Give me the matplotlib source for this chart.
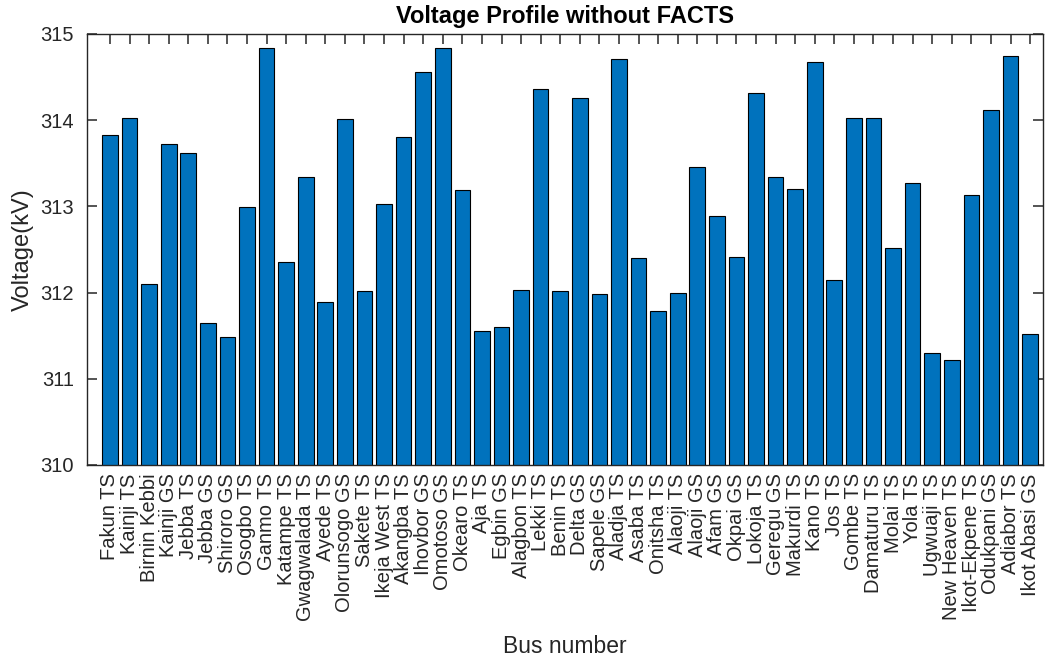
import matplotlib
matplotlib.use("Agg")
import matplotlib.pyplot as plt
import numpy as np

buses = [
    "Fakun TS", "Kainji TS", "Birnin Kebbi", "Kainji GS", "Jebba TS", "Jebba GS",
    "Shiroro GS", "Osogbo TS", "Ganmo TS", "Katampe TS", "Gwagwalada TS", "Ayede TS",
    "Olorunsogo GS", "Sakete TS", "Ikeja West TS", "Akangba TS", "Ihovbor GS",
    "Omotoso GS", "Okearo TS", "Aja TS", "Egbin GS", "Alagbon TS", "Lekki TS",
    "Benin TS", "Delta GS", "Sapele GS", "Aladja TS", "Asaba TS", "Onitsha TS",
    "Alaoji TS", "Alaoji GS", "Afam GS", "Okpai GS", "Lokoja TS", "Geregu GS",
    "Makurdi TS", "Kano TS", "Jos TS", "Gombe TS", "Damaturu TS", "Molai TS",
    "Yola TS", "Ugwuaji TS", "New Heaven TS", "Ikot-Ekpene TS", "Odukpani GS",
    "Adiabor TS", "Ikot Abasi GS",
]

voltage_kv = [
    313.83, 314.02, 312.10, 313.72, 313.62, 311.65,
    311.48, 312.99, 314.84, 312.36, 313.34, 311.89,
    314.01, 312.02, 313.03, 313.80, 314.56,
    314.84, 313.19, 311.55, 311.60, 312.03, 314.36,
    312.02, 314.26, 311.98, 314.71, 312.40, 311.79,
    312.00, 313.46, 312.89, 312.41, 314.32, 313.34,
    313.20, 314.67, 312.15, 314.03, 314.02, 312.52,
    313.27, 311.30, 311.22, 313.13, 314.12,
    314.74, 311.52,
]

y_ticks = [310, 311, 312, 313, 314, 315]

plt.rcParams["font.family"] = ["Liberation Sans", "DejaVu Sans"]
ink = "#262626"

fig = plt.figure(figsize=(10.49, 6.65), dpi=100)
ax = fig.add_axes([0.0826, 0.3008, 0.9117, 0.6481])

x = np.arange(1, len(buses) + 1)
ax.bar(x, voltage_kv, width=0.8, bottom=0, color="#0072BD",
       edgecolor="black", linewidth=0.8, zorder=2)

ax.set_ylim(310, 315)
ax.set_xlim(-0.19, 48.66)
ax.set_yticks(y_ticks)
ax.set_xticks(x)
ax.set_xticklabels(buses, rotation=90, fontsize=14.5, color=ink)
ax.tick_params(axis="y", labelsize=14.5, labelcolor=ink, pad=9)
ax.tick_params(axis="x", pad=6)
ax.tick_params(which="both", direction="in", length=7.5, width=1.1,
               color=ink, top=True, right=True)

for s in ax.spines.values():
    s.set_color(ink)
    s.set_linewidth(1.0)

ax.set_title("Voltage Profile without FACTS", fontsize=17, fontweight="bold",
             color="black", pad=8)
ax.set_ylabel("Voltage(kV)", fontsize=17, color=ink, labelpad=5)
ax.set_xlabel("Bus number", fontsize=16.5, color=ink, labelpad=10)

fig.savefig("out.png", dpi=100)
